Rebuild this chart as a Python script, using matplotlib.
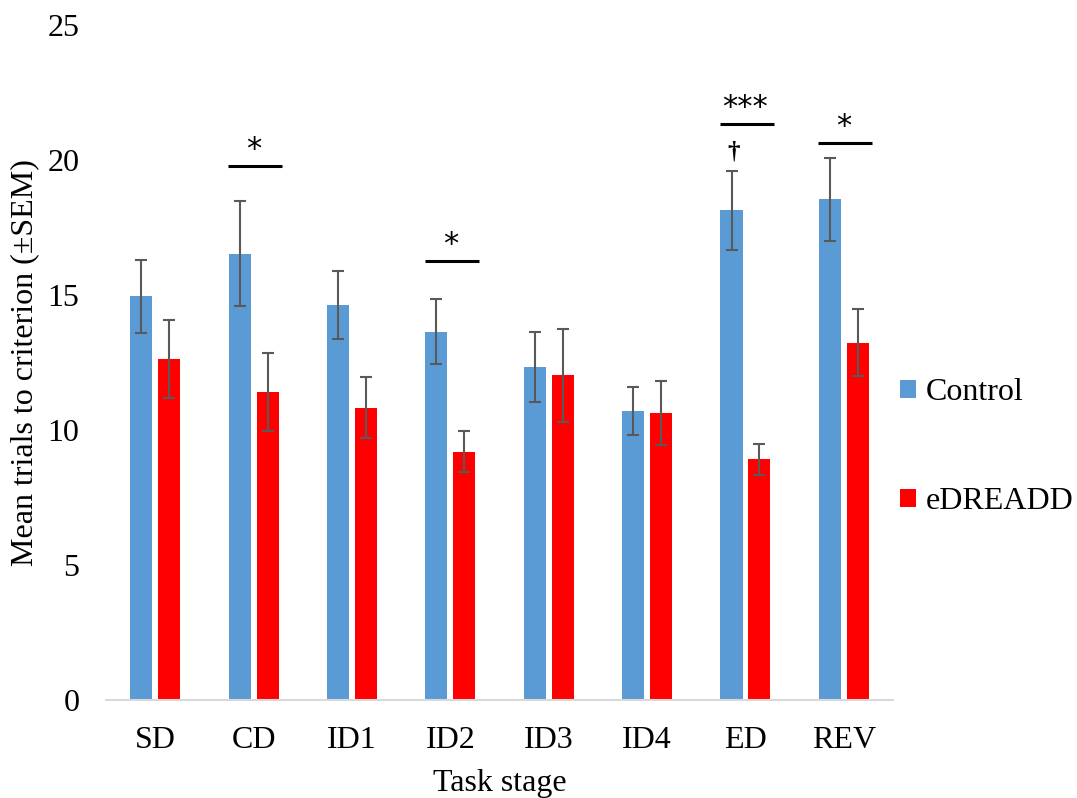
import numpy as np
import matplotlib
matplotlib.use("Agg")
import matplotlib.pyplot as plt

# Data
stages = ["SD", "CD", "ID1", "ID2", "ID3", "ID4", "ED", "REV"]
control_mean = [14.95, 16.53, 14.64, 13.64, 12.33, 10.72, 18.14, 18.54]
control_sem = [1.34, 1.95, 1.26, 1.20, 1.31, 0.89, 1.47, 1.53]
edreadd_mean = [12.62, 11.41, 10.83, 9.20, 12.02, 10.63, 8.91, 13.23]
edreadd_sem = [1.44, 1.43, 1.12, 0.75, 1.73, 1.18, 0.57, 1.24]

# Significance markers: stage, label, bracket height
sig_stages = ["CD", "ID2", "ED", "REV"]
sig_labels = ["*", "*", "***", "*"]
sig_heights = [19.78, 16.27, 21.33, 20.63]

# Dagger over ED control bar
dagger_stage = "ED"
dagger_height = 20.3

plt.rcParams["font.family"] = ["Liberation Serif", "DejaVu Serif"]

CONTROL_COLOR = "#5B9BD5"
EDREADD_COLOR = "#FF0000"
ERR_COLOR = "#595959"
FS = 23

fig = plt.figure(figsize=(10.77, 7.98), dpi=100)
ax = fig.add_axes([0.0984, 0.1228, 0.7308, 0.8459])

x = np.arange(len(stages))
width = 0.224
offset = 0.142

err_kw = dict(ecolor=ERR_COLOR, elinewidth=1.5, capsize=4.4, capthick=1.5)
ax.bar(x - offset, control_mean, width, yerr=control_sem, color=CONTROL_COLOR,
       label="Control", error_kw=err_kw)
ax.bar(x + offset, edreadd_mean, width, yerr=edreadd_sem, color=EDREADD_COLOR,
       label="eDREADD", error_kw=err_kw)

# significance brackets
for stage, lab, h in zip(sig_stages, sig_labels, sig_heights):
    i = stages.index(stage)
    ax.plot([i - 0.26, i + 0.29], [h, h], color="black", lw=2.2,
            solid_capstyle="butt")
    ax.text(i, h + 0.3, lab, ha="center", va="baseline", fontsize=22,
            family=["DejaVu Sans"])

i = stages.index(dagger_stage)
ax.text(i - offset + 0.02, dagger_height, "\u2020", ha="center", va="center",
        fontsize=18, fontweight="bold")

ax.set_xlim(-0.5, len(stages) - 0.5)
ax.set_ylim(0, 25)
ax.set_yticks([0, 5, 10, 15, 20, 25])
ax.set_xticks(x)
ax.set_xticklabels(stages)
ax.tick_params(axis="both", length=0, labelsize=FS)
ax.tick_params(axis="y", pad=19)
ax.tick_params(axis="x", pad=19)

for side in ["top", "right", "left"]:
    ax.spines[side].set_visible(False)
ax.spines["bottom"].set_color("#d9d9d9")
ax.spines["bottom"].set_linewidth(1.5)

ax.set_xlabel("Task stage", fontsize=FS, labelpad=10)
ax.set_ylabel("Mean trials to criterion (\u00b1SEM)", fontsize=FS, labelpad=6)

fig.legend(loc="upper left", bbox_to_anchor=(0.809, 0.562), frameon=False,
           fontsize=FS, handlelength=0.5, handleheight=0.5,
           handletextpad=0.3, labelspacing=2.5)

fig.savefig("out.png", dpi=100)
